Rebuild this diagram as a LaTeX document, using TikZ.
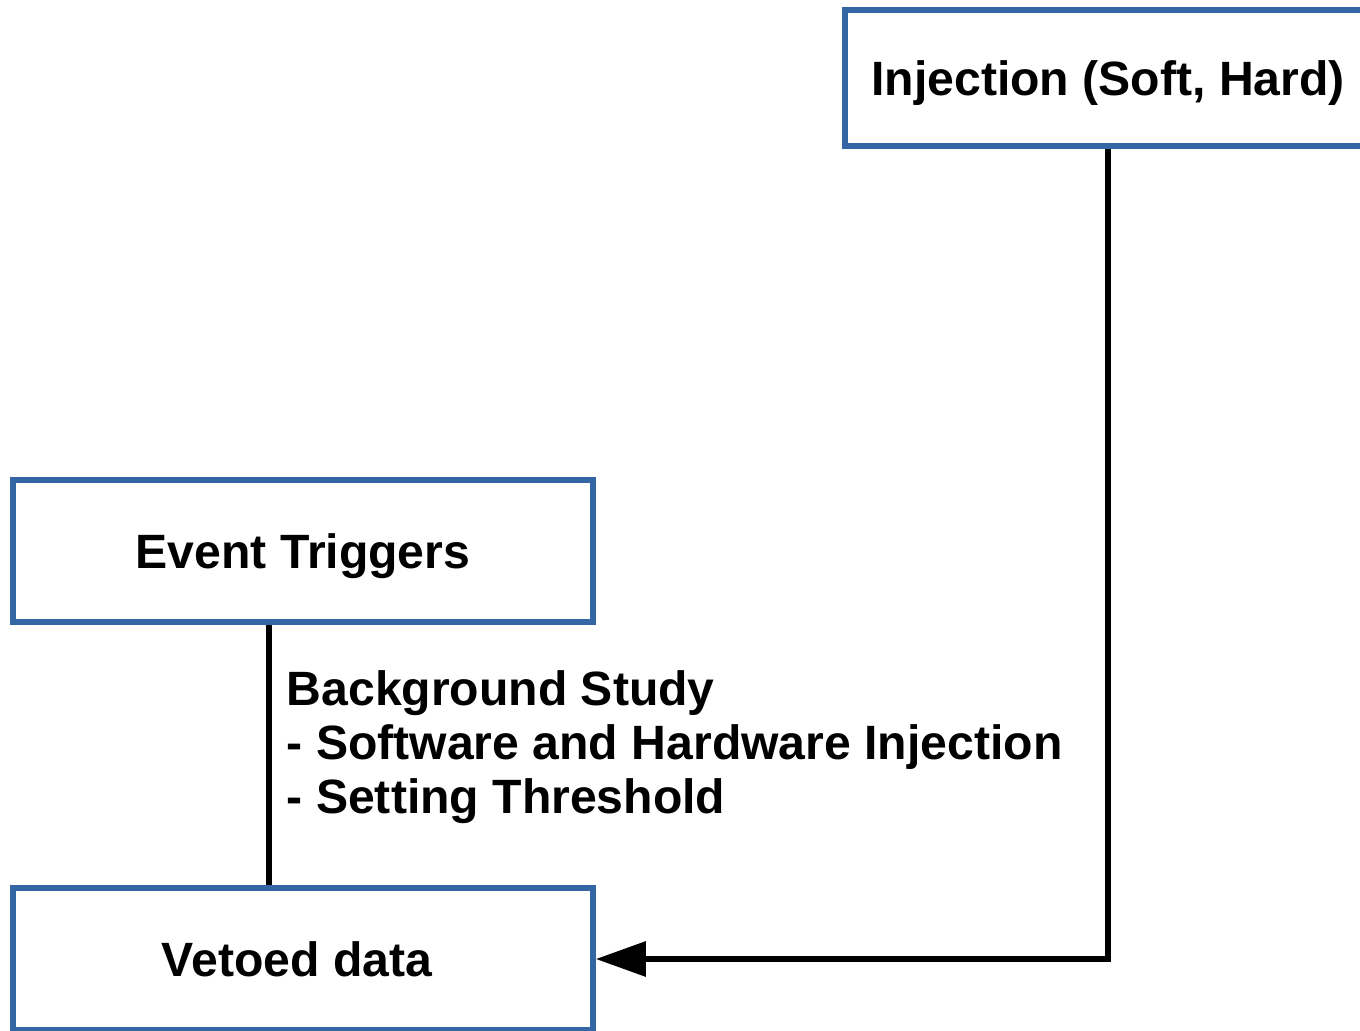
\documentclass[tikz,border=0pt]{standalone}
\usepackage{fontspec}
\setmainfont{Liberation Sans}
\usetikzlibrary{arrows.meta}
\definecolor{boxblue}{HTML}{3465A4}
\tikzset{
  stagebox/.style={draw=boxblue, line width=0.55mm, rectangle, inner sep=0pt,
    minimum height=1.42cm, text depth=0pt, font=\fontsize{13.7}{15.3}\selectfont\bfseries},
  link/.style={line width=0.6mm, black}
}
\begin{document}
\begin{tikzpicture}
      \clip (0,0) rectangle (13.6,-10.31);
      \draw
        (11.08,-0.78) node[stagebox, minimum width=5.26cm, minimum height=1.36cm] (inj){Injection (Soft, Hard)}
        (3.03,-5.51) node[stagebox, minimum width=5.8cm] (trig){Event Triggers}
        (3.03,-9.59) node[stagebox, minimum width=5.8cm] (veto){\hspace*{-0.12cm}Vetoed data};
      \node[anchor=west, align=left, inner sep=0pt,
        font=\fontsize{13.7}{15.3}\selectfont\bfseries] (note) at (2.86,-7.47)
        {Background Study\\- Software and Hardware Injection\\- Setting Threshold};
      \begin{scope}[link]
        \draw ([xshift=2.59cm]trig.south west) to ([xshift=2.59cm]veto.north west);
        \draw[-{Triangle[length=5mm,width=3.4mm]}] (inj.south) |- (veto.east);
      \end{scope}
    \end{tikzpicture}
\end{document}
